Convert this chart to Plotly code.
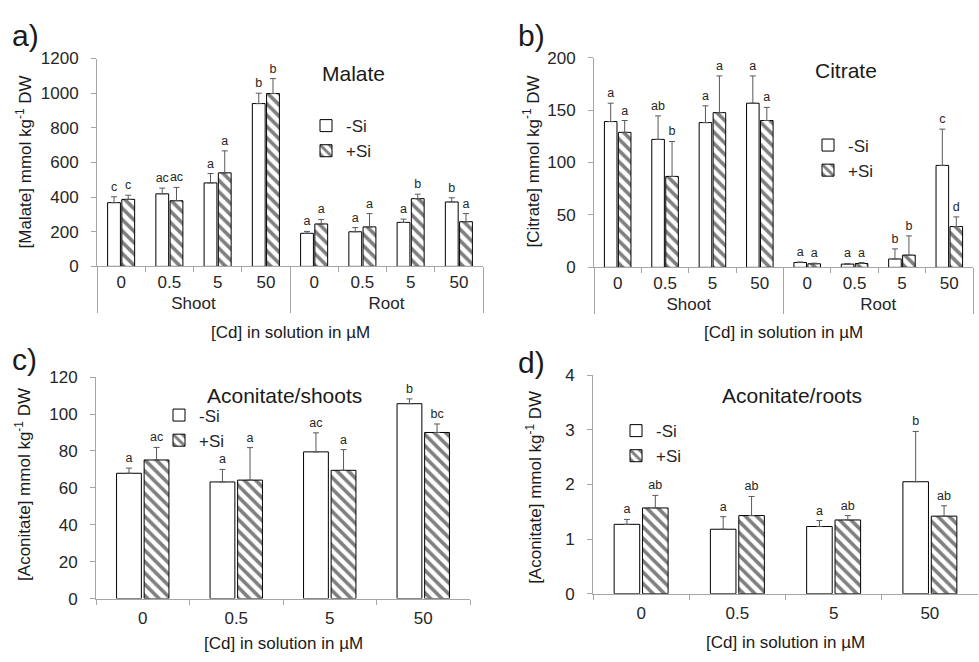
import plotly.graph_objects as go

# ---------------- data ----------------
cd_levels = ["0", "0.5", "5", "50"]
organs = ["Shoot", "Root"]

malate_noSi = [368, 419, 482, 940, 191, 200, 254, 372]
malate_noSi_err = [34, 33, 54, 60, 11, 24, 19, 24]
malate_Si = [387, 379, 540, 998, 245, 228, 391, 258]
malate_Si_err = [24, 77, 127, 86, 26, 77, 26, 47]
malate_noSi_let = ["c", "ac", "a", "b", "a", "a", "a", "b"]
malate_Si_let = ["c", "ac", "a", "b", "a", "a", "b", "a"]

citrate_noSi = [139, 122, 138, 156.5, 4.6, 3.1, 8, 97.2]
citrate_noSi_err = [17.5, 22.4, 16, 26, 0.6, 0.6, 9.6, 34.6]
citrate_Si = [128.7, 86.7, 147.5, 140, 3.4, 3.7, 11.7, 38.9]
citrate_Si_err = [11.3, 33.3, 35, 12.5, 0.6, 0.9, 18.3, 9.2]
citrate_noSi_let = ["a", "ab", "a", "a", "a", "a", "b", "c"]
citrate_Si_let = ["a", "b", "a", "a", "a", "a", "b", "d"]

acon_sh_noSi = [67.9, 63.2, 79.5, 105.6]
acon_sh_noSi_err = [2.8, 6.8, 10.3, 2.6]
acon_sh_Si = [75.1, 64.2, 69.5, 90.0]
acon_sh_Si_err = [6.8, 17.6, 11.2, 4.6]
acon_sh_noSi_let = ["a", "a", "ac", "b"]
acon_sh_Si_let = ["ac", "a", "a", "bc"]

acon_rt_noSi = [1.27, 1.18, 1.23, 2.05]
acon_rt_noSi_err = [0.09, 0.23, 0.11, 0.92]
acon_rt_Si = [1.57, 1.43, 1.35, 1.42]
acon_rt_Si_err = [0.23, 0.35, 0.08, 0.19]
acon_rt_noSi_let = ["a", "a", "a", "b"]
acon_rt_Si_let = ["ab", "ab", "ab", "ab"]

# ---------------- layout helpers ----------------
W, H = 979, 662
FONT = "Liberation Sans, Arial, sans-serif"
GRAY = "#a6a6a6"
TXT = "#262626"


def fx(p):
    return p / W


def fy(p):
    return 1 - p / H


multi_x = [[o for o in organs for _ in cd_levels], [c for _ in organs for c in cd_levels]]
single_x = cd_levels

fig = go.Figure()


def add_panel(xref, yref, legend, xcats, noSi, noSi_err, Si, Si_err, let_n, let_s):
    n = len(noSi)
    ax = dict(xaxis=xref, yaxis=yref)
    fig.add_trace(go.Bar(
        x=xcats, y=noSi, name="-Si", legend=legend, offsetgroup="n",
        marker=dict(color="white", line=dict(color="black", width=1)),
        error_y=dict(type="data", symmetric=False, array=noSi_err, arrayminus=[0] * n,
                     color="#595959", thickness=1, width=3),
        **ax))
    fig.add_trace(go.Bar(
        x=xcats, y=Si, name="+Si", legend=legend, offsetgroup="s",
        marker=dict(color="white", line=dict(color="black", width=1),
                    pattern=dict(shape="\\", fgcolor="black", bgcolor="white",
                                 size=8, solidity=0.45)),
        error_y=dict(type="data", symmetric=False, array=Si_err, arrayminus=[0] * n,
                     color="#595959", thickness=1, width=3),
        **ax))
    # significance letters (placed on transparent bars reaching the error-bar top)
    for vals, errs, lets, grp in ((noSi, noSi_err, let_n, "n"), (Si, Si_err, let_s, "s")):
        fig.add_trace(go.Bar(
            x=xcats, y=[v + e for v, e in zip(vals, errs)], text=lets,
            textposition="outside", constraintext="none", cliponaxis=False,
            textfont=dict(size=12.5, color=TXT, family=FONT),
            offsetgroup=grp, showlegend=False, hoverinfo="skip",
            marker=dict(color="rgba(0,0,0,0)", line=dict(width=0)),
            **ax))


add_panel("x", "y", "legend", multi_x, malate_noSi, malate_noSi_err, malate_Si, malate_Si_err,
          malate_noSi_let, malate_Si_let)
add_panel("x2", "y2", "legend2", multi_x, citrate_noSi, citrate_noSi_err, citrate_Si, citrate_Si_err,
          citrate_noSi_let, citrate_Si_let)
add_panel("x3", "y3", "legend3", single_x, acon_sh_noSi, acon_sh_noSi_err, acon_sh_Si, acon_sh_Si_err,
          acon_sh_noSi_let, acon_sh_Si_let)
add_panel("x4", "y4", "legend4", single_x, acon_rt_noSi, acon_rt_noSi_err, acon_rt_Si, acon_rt_Si_err,
          acon_rt_noSi_let, acon_rt_Si_let)


def xaxis(dom, anchor, multi):
    d = dict(domain=dom, anchor=anchor, showline=True, linecolor=GRAY, linewidth=1,
             ticks="outside", ticklen=5, tickcolor=GRAY, tickson="boundaries",
             showgrid=False, zeroline=False, tickfont=dict(size=17, color=TXT, family=FONT))
    if multi:
        d.update(type="multicategory", showdividers=True, dividercolor=GRAY, dividerwidth=1)
    else:
        d.update(type="category", ticklabelstandoff=4)
    return d


def yaxis(dom, anchor, rng, dtick):
    return dict(domain=dom, anchor=anchor, range=rng, dtick=dtick, showline=True,
                linecolor=GRAY, linewidth=1, ticks="outside", ticklen=5, tickcolor=GRAY,
                showgrid=False, zeroline=False, ticklabelstandoff=9,
                tickfont=dict(size=17, color=TXT, family=FONT))


def legend(xp, yp):
    return dict(x=fx(xp), y=fy(yp), xanchor="left", yanchor="top", bgcolor="rgba(0,0,0,0)",
                font=dict(size=17, color=TXT, family=FONT), tracegroupgap=0, itemwidth=30)


annotations = []


def ann(text, x, y, size, angle=0):
    annotations.append(dict(text=text, x=fx(x), y=fy(y), xref="paper", yref="paper",
                            showarrow=False, textangle=angle, xanchor="center", yanchor="middle",
                            font=dict(size=size, color="#1a1a1a", family=FONT)))


# panel letters
ann("a)", 25, 27, 30)
ann("b)", 531, 27, 30)
ann("c)", 24, 361, 30)
ann("d)", 531, 364, 30)
# panel titles
ann("Malate", 353, 66, 21)
ann("Citrate", 846, 63, 21)
ann("Aconitate/shoots", 284, 398, 21)
ann("Aconitate/roots", 792, 398, 21)
# y titles
ylab = " mmol kg<sup>-1</sup> DW"
ann("[Malate]" + ylab, 24, 158, 17, -90)
ann("[Citrate]" + ylab, 532, 157, 17, -90)
ann("[Aconitate]" + ylab, 23, 490, 17, -90)
ann("[Aconitate]" + ylab, 534, 493, 17, -90)
# x titles
xlab = "[Cd] in solution in µM"
ann(xlab, 290, 333, 17)
ann(xlab, 783, 333, 17)
ann(xlab, 283, 653, 17)
ann(xlab, 785, 652, 17)

fig.update_layout(
    width=W, height=H, margin=dict(l=0, r=0, t=0, b=0),
    paper_bgcolor="white", plot_bgcolor="white",
    font=dict(family=FONT, color=TXT),
    barmode="group", bargap=0.41, bargroupgap=0.1,
    xaxis=xaxis([fx(97), fx(483)], "y", True),
    yaxis=yaxis([fy(265), fy(51)], "x", [0, 1200], 200),
    xaxis2=xaxis([fx(594), fx(973)], "y2", True),
    yaxis2=yaxis([fy(266), fy(50)], "x2", [0, 200], 50),
    xaxis3=xaxis([fx(96), fx(470)], "y3", False),
    yaxis3=yaxis([fy(607), fy(379)], "x3", [0, 120], 20),
    xaxis4=xaxis([fx(593), fx(978)], "y4", False),
    yaxis4=yaxis([fy(602), fy(377)], "x4", [0, 4], 1),
    legend=legend(306, 102),
    legend2=legend(808, 122),
    legend3=legend(159, 400),
    legend4=legend(616, 416),
    annotations=annotations,
    showlegend=True,
)

fig.write_html("out.html")
